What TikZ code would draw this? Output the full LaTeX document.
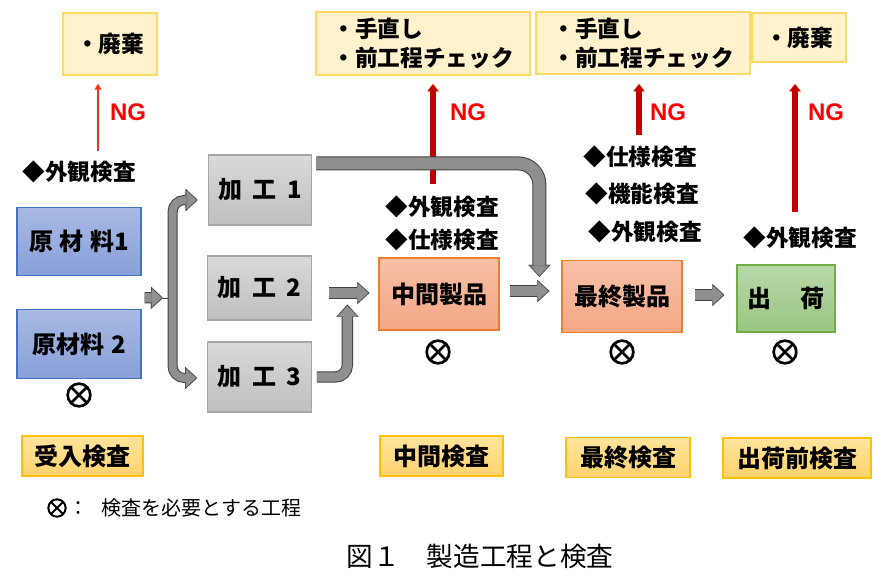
\documentclass[tikz,border=0pt]{standalone}
\usepackage{fontspec}
\setmainfont{Noto Sans CJK JP}
\newfontfamily\ngfont{Liberation Sans}
\usetikzlibrary{arrows.meta,calc}

\definecolor{rawedge}{HTML}{4472C4}
\definecolor{rawtop}{HTML}{A9B9E3}
\definecolor{rawbot}{HTML}{87A0D9}
\definecolor{procedge}{HTML}{A6A6A6}
\definecolor{proctop}{HTML}{D9D9D9}
\definecolor{procbot}{HTML}{BFBFBF}
\definecolor{prodedge}{HTML}{ED7D31}
\definecolor{prodtop}{HTML}{F7C0A8}
\definecolor{prodbot}{HTML}{F4A784}
\definecolor{shipedge}{HTML}{70AD47}
\definecolor{shiptop}{HTML}{B8D8A9}
\definecolor{shipbot}{HTML}{99C682}
\definecolor{noteedge}{HTML}{FFD966}
\definecolor{notefill}{HTML}{FFF2CC}
\definecolor{stageedge}{HTML}{FFC000}
\definecolor{stagetop}{HTML}{FFE49C}
\definecolor{stagebot}{HTML}{FFD36E}
\definecolor{arrowgray}{HTML}{8F8F8F}
\definecolor{arrowedge}{HTML}{404040}
\definecolor{ngred}{HTML}{C00000}
\definecolor{ngedge}{HTML}{ED7D31}

\tikzset{
  gin/.tip={Triangle[length=7.5pt,width=14pt,line width=0.01pt]},
  gout/.tip={Triangle[length=9pt,width=16.5pt,line width=0.01pt]},
  rin/.tip={Triangle[length=4.6pt,width=7.4pt,line width=0.01pt]},
  rout/.tip={Triangle[length=6pt,width=9pt,line width=0.01pt]},
  garrow/.style={draw=arrowgray, line width=#1, -gin, shorten >=1pt,
    preaction={draw=arrowedge, line width=#1+1.5pt, -gout, shorten >=0pt}},
  garrow/.default=7pt,
  gbrack/.style={draw=arrowgray, line width=6pt, gin-gin, shorten >=1pt, shorten <=1pt,
    preaction={draw=arrowedge, line width=7.5pt, gout-gout, shorten >=0pt, shorten <=0pt}},
  ngarrow/.style={draw=ngred, line width=4pt, -rin, shorten >=0.8pt,
    preaction={draw=ngedge, line width=5.2pt, -rout, shorten >=0pt}},
  ngthin/.style={draw=ngedge!40!red, line width=2pt, -{Triangle[length=4.5pt,width=5pt]}},
  box/.style={rectangle, line width=0.9pt, inner sep=0pt,
    font=\fontsize{18}{21}\selectfont\bfseries},
  rawbox/.style={box, draw=rawedge, top color=rawtop, bottom color=rawbot,
    minimum width=93pt, minimum height=51.5pt},
  procbox/.style={box, draw=procedge, top color=proctop, bottom color=procbot,
    minimum width=77.5pt, minimum height=52.5pt},
  prodbox/.style={box, draw=prodedge, top color=prodtop, bottom color=prodbot,
    minimum width=90pt, minimum height=54pt},
  shipbox/.style={box, draw=shipedge, top color=shiptop, bottom color=shipbot,
    minimum width=73.5pt, minimum height=50.25pt},
  stagebox/.style={box, draw=stageedge, top color=stagetop, bottom color=stagebot,
    minimum height=30pt},
  notebox/.style={rectangle, draw=noteedge, fill=notefill, line width=0.9pt, align=left,
    font=\fontsize{17}{21.75}\selectfont\bfseries},
  insp/.style={inner sep=0pt, font=\fontsize{17}{20}\selectfont\bfseries},
  ng/.style={inner sep=0pt, text=red, font=\ngfont\fontsize{18}{20}\selectfont\bfseries},
  check/.style={circle, draw, line width=2pt, minimum size=17pt, inner sep=0pt,
    path picture={\draw (path picture bounding box.north west) -- (path picture bounding box.south east)
      (path picture bounding box.north east) -- (path picture bounding box.south west);}},
}

\begin{document}
\begin{tikzpicture}[x=0.75pt, y=-0.75pt]
  \useasboundingbox (0,0) rectangle (887,577);

  % process boxes
  \node[rawbox] (raw1) at (79,241.5) {原\hspace{5pt}材\hspace{5pt}料1};
  \node[rawbox] (raw2) at (79,344) {原材料\hspace{5pt}2};
  \node[procbox] (proc1) at (260,190) {加\hspace{8pt}工\hspace{8pt}1};
  \node[procbox, minimum height=48pt] (proc2) at (259.5,288) {加\hspace{8pt}工\hspace{8pt}2};
  \node[procbox] (proc3) at (259.5,377) {加\hspace{8pt}工\hspace{8pt}3};
  \node[prodbox] (mid) at (439,294) {中間製品};
  \node[prodbox] (final) at (622,296.5) {最終製品};
  \node[shipbox] (ship) at (786,298.5) {出\hspace{22pt}荷};

  % what happens on NG
  \node[notebox, minimum width=70.5pt, minimum height=46.5pt] (waste1) at (110,44) {・廃棄};
  \node[notebox, minimum width=160.5pt, minimum height=47.25pt] (fix1) at (423,43.5) {・手直し\\・前工程チェック};
  \node[notebox, minimum width=160.5pt, minimum height=46.5pt] (fix2) at (643,43) {・手直し\\・前工程チェック};
  \node[notebox, minimum width=70.5pt, minimum height=36.75pt] (waste2) at (799,37.5) {・廃棄};

  % inspection items
  \node[insp] (ins0) at (79,172) {◆外観検査};
  \node[insp] (ins1a) at (442,207) {◆外観検査};
  \node[insp] (ins1b) at (442,240) {◆仕様検査};
  \node[insp] (ins2a) at (640,157) {◆仕様検査};
  \node[insp] (ins2b) at (642,194) {◆機能検査};
  \node[insp] (ins2c) at (645,232) {◆外観検査};
  \node[insp] (ins3) at (800,238) {◆外観検査};

  % inspection marks
  \node[check] (chk0) at (79,395) {};
  \node[check] (chk1) at (438,352) {};
  \node[check] (chk2) at (622,352) {};
  \node[check] (chk3) at (785,352) {};

  % stage names
  \node[stagebox, minimum width=90.75pt] (recv) at (82.5,456) {受入検査};
  \node[stagebox, minimum width=92.25pt] (midchk) at (441.5,456) {中間検査};
  \node[stagebox, minimum width=93pt] (finchk) at (628,457.5) {最終検査};
  \node[stagebox, minimum width=111pt] (shipchk) at (797,458) {出荷前検査};

  % NG arrows
  \draw[ngthin] ($(ins0.north -| 98,0)+(0,-10)$) -- ($(waste1.south -| 98,0)+(0,8)$);
  \draw[ngarrow] ($(ins1a.north -| 433,0)+(0,-12)$) -- ($(fix1.south -| 433,0)+(0,8)$);
  \draw[ngarrow] ($(ins2a.north -| 639,0)+(0,-11)$) -- ($(fix2.south -| 639,0)+(0,9)$);
  \draw[ngarrow] ($(ins3.north -| 795,0)+(0,-15)$) -- ($(waste2.south -| 795,0)+(0,21)$);
  \node[ng] (ng1) at (128,112) {NG};
  \node[ng] (ng2) at (468,112) {NG};
  \node[ng] (ng3) at (668,112) {NG};
  \node[ng] (ng4) at (826,112) {NG};

  % flow arrows
  \coordinate (split) at (172.5,298);
  \draw[garrow] ($(raw1.east)!0.5!(raw2.east)+(3,5)$) -- ($(split)+(-9.5,0)$);
  \draw[arrowedge] ($(split)+(-9.5,0)$) -- (split);
  \draw[gbrack, rounded corners=9pt] ($(proc1.west)+(-10,10)$) -| (split) |- ($(proc3.west)+(-10,1)$);
  \draw[garrow=9pt, rounded corners=16pt] ($(proc1.north east)+(4,9)$) -| ($(final.north west)+(-22,17)$);
  \draw[garrow] ($(proc2.east)+(17,5)$) -- ($(mid.west)+(-9,-1)$);
  \draw[garrow, rounded corners=9pt] ($(proc3.east)+(5,0)$) -| ($(mid.south west)+(-31,-26)$);
  \draw[garrow] ($(mid.east)+(10,-3)$) -- ($(final.west)+(-12,-5.5)$);
  \draw[garrow] ($(final.east)+(12,-1.5)$) -- ($(ship.west)+(-12,-3.5)$);

  % legend and caption
  \node[check, minimum size=13pt, line width=1.5pt] (chkL) at (57,508) {};
  \node[anchor=west, inner sep=0pt, font=\fontsize{15}{18}\selectfont] (legend) at (68,508) {：\hspace{10pt}検査を必要とする工程};
  \node[inner sep=0pt, font=\fontsize{20}{24}\selectfont] (caption) at (480,556) {図１　製造工程と検査};
\end{tikzpicture}
\end{document}
